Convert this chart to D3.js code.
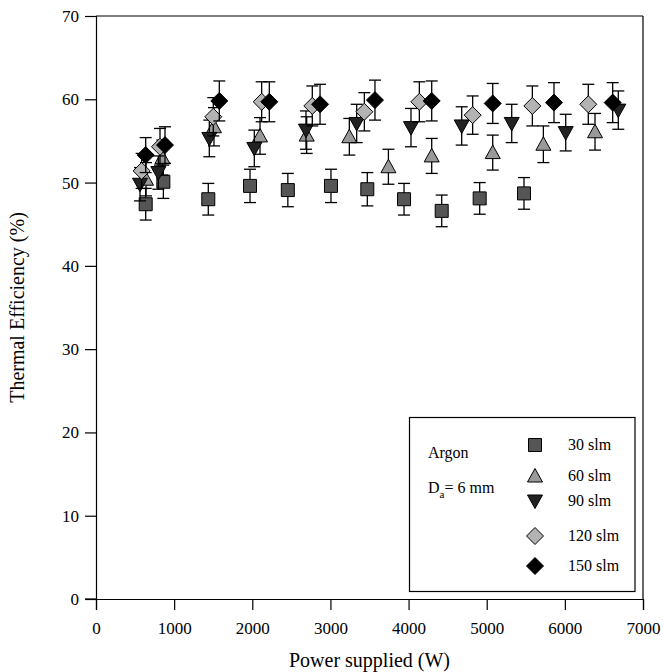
<!DOCTYPE html>
<html><head><meta charset="utf-8">
<script src="https://cdn.jsdelivr.net/npm/d3@7"></script>
<style>body{margin:0;background:#fff}svg{display:block}text{font-family:"Liberation Serif","Times New Roman",serif}</style>
</head><body><svg id="c" width="663" height="672"></svg>
<script>
const xTicks = [0,1000,2000,3000,4000,5000,6000,7000];
const yTicks = [0,10,20,30,40,50,60,70];
const seriesNames = ["30 slm","60 slm","90 slm","120 slm","150 slm"];

const x30 = [636, 862, 1437, 1971, 2455, 3007, 3472, 3942, 4424, 4910, 5477];
const y30 = [47.4, 50.1, 48.0, 49.6, 49.1, 49.6, 49.2, 48.0, 46.6, 48.1, 48.7];
const e30 = [1.9, 2.0, 1.9, 2.0, 2.0, 2.0, 2.0, 1.9, 1.9, 1.9, 1.9];

const x60 = [640, 850, 1510, 2099, 2696, 3242, 3742, 4296, 5077, 5725, 6386];
const y60 = [50.4, 53.0, 56.7, 55.6, 55.7, 55.5, 51.9, 53.2, 53.6, 54.6, 56.1];
const e60 = [2.0, 2.1, 2.3, 2.2, 2.2, 2.2, 2.1, 2.1, 2.1, 2.2, 2.2];

const x90 = [563, 798, 1450, 2026, 2687, 3336, 4031, 4680, 5320, 6011, 6684];
const y90 = [49.8, 51.2, 55.3, 54.1, 56.3, 57.1, 56.6, 56.8, 57.1, 56.0, 58.7];
const e90 = [2.0, 2.0, 2.2, 2.2, 2.3, 2.3, 2.3, 2.3, 2.3, 2.2, 2.3];

const x120 = [584, 819, 1501, 2120, 2768, 3434, 4138, 4820, 5584, 6300];
const y120 = [51.4, 54.3, 57.9, 59.7, 59.2, 58.5, 59.7, 58.1, 59.2, 59.4];
const e120 = [2.1, 2.2, 2.3, 2.4, 2.4, 2.3, 2.4, 2.3, 2.4, 2.4];

const x150 = [636, 883, 1578, 2218, 2867, 3570, 4296, 5077, 5861, 6612];
const y150 = [53.3, 54.5, 59.8, 59.7, 59.4, 59.9, 59.8, 59.5, 59.6, 59.6];
const e150 = [2.1, 2.2, 2.4, 2.4, 2.4, 2.4, 2.4, 2.4, 2.4, 2.4];

const series = [
  {name: seriesNames[0], xs: x30, ys: y30, es: e30, shape: "square", fill: "#555555"},
  {name: seriesNames[1], xs: x60, ys: y60, es: e60, shape: "triangle", fill: "#999999"},
  {name: seriesNames[2], xs: x90, ys: y90, es: e90, shape: "invtriangle", fill: "#222222"},
  {name: seriesNames[3], xs: x120, ys: y120, es: e120, shape: "diamond", fill: "#b3b3b3"},
  {name: seriesNames[4], xs: x150, ys: y150, es: e150, shape: "diamond", fill: "#000000"}
];

const svg = d3.select("#c");
const L = 96, R = 643, T = 16, B = 599;
const x = d3.scaleLinear().domain([0,7000]).range([L,R]);
const y = d3.scaleLinear().domain([0,70]).range([B,T]);

function shapePath(shape){
  if(shape==="square") return "M-6.5,-6.5H6.5V6.5H-6.5Z";
  if(shape==="triangle") return "M0,-7.5L7.5,6L-7.5,6Z";
  if(shape==="invtriangle") return "M0,7.5L7.5,-6L-7.5,-6Z";
  return "M0,-8.5L8.5,0L0,8.5L-8.5,0Z";
}

// frame
svg.append("line").attr("x1",R).attr("x2",R).attr("y1",T).attr("y2",B).attr("stroke","#000").attr("stroke-width",1.2);
svg.append("line").attr("x1",L).attr("x2",R).attr("y1",T).attr("y2",T).attr("stroke","#000").attr("stroke-width",1.2);

const xAxis = svg.append("g").attr("transform",`translate(0,${B})`)
  .call(d3.axisBottom(x).tickValues(xTicks).tickSize(11).tickPadding(12).tickFormat(d3.format("d")));
const yAxis = svg.append("g").attr("transform",`translate(${L},0)`)
  .call(d3.axisLeft(y).tickValues(yTicks).tickSize(11).tickPadding(6));
[xAxis,yAxis].forEach(a=>{
  a.select(".domain").attr("stroke","#000").attr("stroke-width",1.2);
  a.selectAll(".tick line").attr("stroke","#000").attr("stroke-width",1.2);
  a.selectAll("text").attr("fill","#000").style("font-size","17px").style("font-family","'Liberation Serif',serif");
});
// extend x-axis domain line slightly left as in reference
svg.append("line").attr("x1",L-11).attr("x2",L).attr("y1",B).attr("y2",B).attr("stroke","#000").attr("stroke-width",1.2);

svg.append("text").attr("x",(L+R)/2-0).attr("y",667).attr("text-anchor","middle")
  .style("font-size","20px").text("Power supplied (W)");
svg.append("text").attr("transform",`translate(24,${(T+B)/2}) rotate(-90)`).attr("text-anchor","middle")
  .style("font-size","20px").text("Thermal Efficiency (%)");

// data
const plot = svg.append("g");
series.forEach(s=>{
  const g = plot.append("g");
  const pts = s.xs.map((xv,i)=>({x:xv,y:s.ys[i],e:s.es[i]}));
  const eb = g.selectAll(".eb").data(pts).enter().append("g");
  eb.append("line").attr("x1",d=>x(d.x)).attr("x2",d=>x(d.x))
    .attr("y1",d=>y(d.y+d.e)).attr("y2",d=>y(d.y-d.e)).attr("stroke","#000").attr("stroke-width",1.3);
  eb.append("line").attr("x1",d=>x(d.x)-6).attr("x2",d=>x(d.x)+6)
    .attr("y1",d=>y(d.y+d.e)).attr("y2",d=>y(d.y+d.e)).attr("stroke","#000").attr("stroke-width",1.3);
  eb.append("line").attr("x1",d=>x(d.x)-6).attr("x2",d=>x(d.x)+6)
    .attr("y1",d=>y(d.y-d.e)).attr("y2",d=>y(d.y-d.e)).attr("stroke","#000").attr("stroke-width",1.3);
  g.selectAll(".m").data(pts).enter().append("path")
    .attr("d",shapePath(s.shape)).attr("transform",d=>`translate(${x(d.x)},${y(d.y)})`)
    .attr("fill",s.fill).attr("stroke","#000").attr("stroke-width",1);
});

// legend
const lg = svg.append("g");
lg.append("rect").attr("x",409.5).attr("y",417.5).attr("width",225.5).attr("height",174)
  .attr("fill","#fff").attr("stroke","#000").attr("stroke-width",1.2);
lg.append("text").attr("x",428).attr("y",458).style("font-size","16px").text("Argon");
const da = lg.append("text").attr("x",428).attr("y",493).style("font-size","16px");
da.append("tspan").text("D");
da.append("tspan").attr("dy",5).style("font-size","11px").text("a");
da.append("tspan").attr("dy",-5).text("= 6 mm");
const legY = [445, 476, 501, 536, 566];
series.forEach((s,i)=>{
  lg.append("path").attr("d",shapePath(s.shape)).attr("transform",`translate(535,${legY[i]})`)
    .attr("fill",s.fill).attr("stroke","#000").attr("stroke-width",1);
  lg.append("text").attr("x",568).attr("y",legY[i]+5).style("font-size","16px").text(s.name);
});
</script></body></html>
